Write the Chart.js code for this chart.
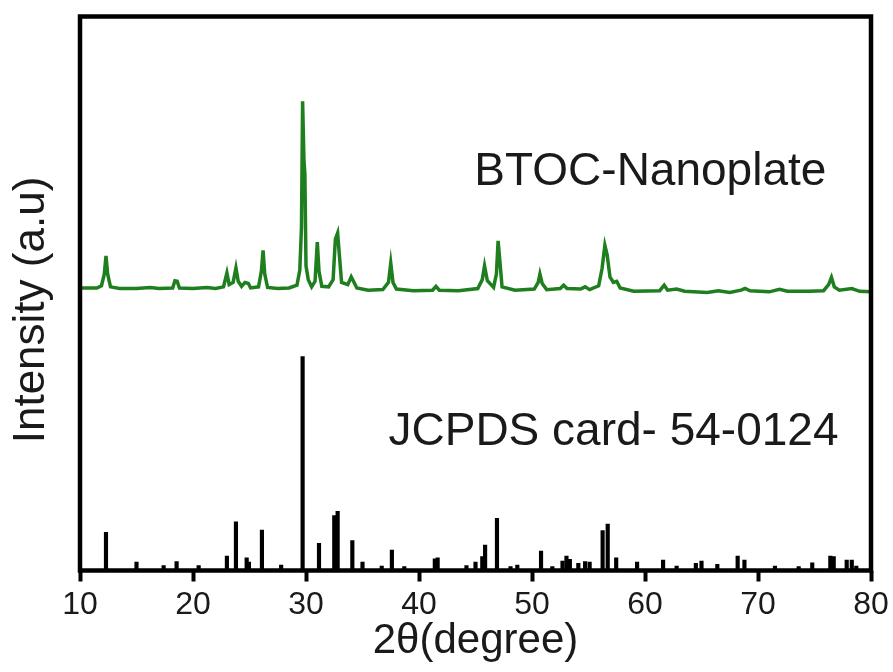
<!DOCTYPE html>
<html>
<head>
<meta charset="utf-8">
<script src="https://cdn.jsdelivr.net/npm/chart.js@4"></script>
<style>
  html, body { margin: 0; padding: 0; background: #fff; }
  #wrap { width: 893px; height: 672px; }
</style>
</head>
<body>
<div id="wrap"><canvas id="xrd" width="893" height="672"></canvas></div>
<script>
// measured pattern (2theta, stacked intensity in arbitrary units)
const sampleTheta = [10, 11.5, 11.9, 12.15, 12.3, 12.45, 12.7, 13.5, 15, 16.2, 17, 18.2, 18.4, 18.6, 18.8, 20, 21.2, 22, 22.7, 23.0, 23.2, 23.55, 23.8, 24.0, 24.3, 24.6, 24.9, 25.1, 25.8, 26.05, 26.2, 26.35, 26.6, 27.5, 28.5, 29.2, 29.45, 29.6, 29.7, 29.82, 29.9, 30.0, 30.2, 30.5, 30.8, 31.0, 31.15, 31.4, 32.0, 32.4, 32.6, 32.8, 32.95, 33.15, 33.7, 34.0, 34.2, 34.5, 35.5, 36.8, 37.3, 37.5, 37.7, 38.0, 39.5, 41.2, 41.5, 41.8, 43.5, 45.2, 45.6, 45.8, 46.05, 46.6, 46.85, 47.0, 47.15, 47.35, 48.5, 50.2, 50.55, 50.7, 50.9, 51.3, 52.5, 52.8, 53.1, 54.3, 54.7, 55.1, 55.9, 56.2, 56.45, 56.65, 56.9, 57.2, 57.5, 57.8, 59, 61.3, 61.7, 62.0, 62.8, 63.5, 65.5, 66.5, 67.5, 68.5, 68.85, 69.3, 71.0, 71.9, 72.6, 74.5, 75.8, 76.25, 76.5, 76.75, 77.2, 78.3, 79.0, 80];
const sampleInt = [51.0, 51.0, 51.4, 53.5, 56.8, 53.5, 51.2, 50.9, 50.9, 51.1, 50.9, 51.0, 52.3, 52.2, 51.0, 50.9, 51.1, 50.9, 51.2, 53.7, 51.6, 52.0, 54.6, 52.2, 51.3, 52.0, 51.8, 51.0, 51.2, 54.0, 57.8, 53.5, 51.1, 50.9, 51.0, 51.5, 54.2, 62.0, 84.7, 74.0, 71.6, 55.0, 52.5, 51.2, 52.2, 59.3, 54.0, 51.3, 51.2, 52.5, 59.8, 60.9, 57.0, 52.0, 51.6, 53.0, 52.2, 51.0, 50.6, 50.7, 52.0, 55.5, 52.0, 50.8, 50.5, 50.6, 51.3, 50.6, 50.5, 50.9, 52.5, 55.0, 52.3, 51.1, 53.5, 59.5, 56.0, 51.2, 50.6, 50.8, 52.0, 53.5, 51.8, 50.7, 50.9, 51.5, 50.9, 50.8, 51.2, 50.7, 51.4, 54.5, 58.7, 57.0, 53.0, 52.0, 52.2, 51.0, 50.4, 50.5, 51.5, 50.6, 50.8, 50.4, 50.2, 50.5, 50.2, 50.6, 50.9, 50.5, 50.3, 50.75, 50.4, 50.4, 50.5, 51.6, 52.9, 51.2, 50.6, 50.9, 50.4, 50.3];

// reference card 54-0124 stick positions and heights
const cardTheta = [12.3, 15.0, 17.4, 18.55, 20.5, 23.0, 23.8, 24.75, 24.95, 26.1, 27.8, 29.7, 31.15, 32.5, 32.8, 34.1, 35.0, 36.7, 37.6, 38.7, 41.4, 41.65, 44.2, 45.0, 45.6, 45.85, 46.9, 48.1, 48.7, 50.8, 51.8, 52.7, 53.05, 53.35, 54.1, 54.7, 55.1, 56.25, 56.7, 57.45, 59.3, 61.6, 62.8, 64.5, 65.0, 66.4, 68.2, 68.8, 71.5, 73.6, 74.8, 76.4, 76.7, 77.85, 78.3, 78.7];
const cardInt = [6.9, 1.5, 0.9, 1.6, 0.9, 2.6, 8.8, 2.3, 1.5, 7.3, 1.0, 38.6, 4.9, 9.9, 10.7, 5.4, 1.5, 0.8, 3.7, 0.7, 2.1, 2.3, 0.9, 1.5, 2.5, 4.6, 9.4, 0.7, 1.0, 3.5, 0.7, 1.7, 2.6, 2.0, 1.3, 1.6, 1.5, 7.2, 8.4, 2.3, 1.5, 1.9, 0.8, 1.3, 1.7, 1.1, 2.6, 1.9, 0.8, 0.7, 1.4, 2.6, 2.5, 1.9, 1.9, 0.8];

const xTicks = [10, 20, 30, 40, 50, 60, 70, 80];

// text labels placed in data coordinates
const labels = [
    { text: 'BTOC-Nanoplate', x: 44.9, y: 71.9 },
    { text: 'JCPDS card- 54-0124', x: 37.3, y: 24.9 }
];

const FONT = "'Liberation Sans', Arial, sans-serif";
const INK = '#1a1a1a';

const framePlugin = {
    id: 'frame',
    afterDraw(chart) {
        const { ctx, chartArea: a, scales } = chart;
        ctx.save();
        ctx.strokeStyle = '#000';
        ctx.lineWidth = 4.5;
        ctx.strokeRect(a.left, a.top, a.right - a.left, a.bottom - a.top);

        ctx.fillStyle = INK;
        ctx.font = '46px ' + FONT;
        ctx.textBaseline = 'middle';
        ctx.textAlign = 'left';
        labels.forEach(l => {
            ctx.fillText(l.text, scales.x.getPixelForValue(l.x), scales.y.getPixelForValue(l.y));
        });

        ctx.translate(32, 310);
        ctx.rotate(-Math.PI / 2);
        ctx.textAlign = 'center';
        ctx.font = '44px ' + FONT;
        ctx.fillText('Intensity (a.u)', 0, 0);
        ctx.restore();
    }
};

new Chart(document.getElementById('xrd'), {
    type: 'bar',
    data: {
        datasets: [
            {
                type: 'line',
                data: sampleTheta.map((t, i) => ({ x: t, y: sampleInt[i] })),
                borderColor: '#1f7f1f',
                borderWidth: 3.5,
                pointRadius: 0,
                tension: 0
            },
            {
                type: 'bar',
                data: cardTheta.map((t, i) => ({ x: t, y: cardInt[i] })),
                backgroundColor: '#000',
                barThickness: 3.5
            }
        ]
    },
    options: {
        responsive: false,
        animation: false,
        layout: { padding: { top: 16.5, right: 22, left: 0, bottom: 0 } },
        plugins: { legend: { display: false }, tooltip: { enabled: false } },
        scales: {
            x: {
                type: 'linear',
                min: 10,
                max: 80,
                offset: false,
                afterBuildTicks: s => { s.ticks = xTicks.map(v => ({ value: v })); },
                afterFit: s => { s.height = 101.5; },
                ticks: { color: INK, font: { family: FONT, size: 32 }, padding: 4, maxRotation: 0 },
                grid: { drawOnChartArea: false, drawTicks: true, tickLength: 11, tickWidth: 4, tickColor: '#000', offset: false },
                border: { display: false },
                title: { display: true, text: '2θ(degree)', color: INK, font: { family: FONT, size: 42 }, padding: { top: 0, bottom: 5 } }
            },
            y: {
                min: 0,
                max: 100,
                afterFit: s => { s.width = 80; },
                ticks: { display: false },
                grid: { display: false },
                border: { display: false }
            }
        }
    },
    plugins: [framePlugin]
});
</script>
</body>
</html>
